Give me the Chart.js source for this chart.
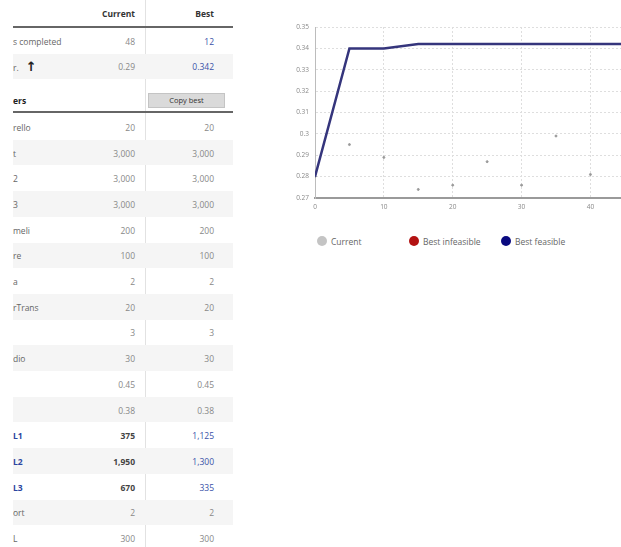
<!DOCTYPE html>
<html>
<head>
<meta charset="utf-8">
<script src="https://cdn.jsdelivr.net/npm/chart.js@4"></script>
<style>
    html, body {
        margin: 0;
        padding: 0;
        width: 621px;
        height: 547px;
        overflow: hidden;
        background: #fff;
        font-family: "Open Sans", "Noto Sans", sans-serif;
    }
    #table {
        position: absolute;
        left: 13px;
        top: 0;
        width: 220px;
        height: 547px;
        overflow: hidden;
        font-size: 8.5px;
        color: #888;
    }
    #table .divider {
        position: absolute;
        left: 132px;
        top: 0;
        width: 1px;
        height: 547px;
        background: #e2e2e2;
    }
    .row {
        position: absolute;
        left: 0;
        width: 220px;
    }
    .row.shade { background: #f5f5f5; }
    .row span {
        position: absolute;
        top: 50%;
        transform: translateY(-50%);
        white-space: nowrap;
    }
    .row .lab { left: 0; color: #666; }
    .row .cur { right: 98px; }
    .row .best { right: 19px; }
    .head span { color: #333; font-weight: bold; }
    .rule { border-bottom: 2px solid #666; }
    .row .blue { color: #3a52a8; }
    .row .strong { font-weight: bold; color: #444; }
    .row .lab.hl { font-weight: bold; color: #2c46a0; }
    .arrow {
        font-family: "DejaVu Sans", sans-serif;
        font-size: 13px;
        font-weight: bold;
        color: #222;
        margin-left: 7px;
        position: static !important;
        transform: none !important;
    }
    .btn {
        position: absolute;
        left: 135px;
        top: 93px;
        width: 75px;
        height: 13px;
        line-height: 13px;
        text-align: center;
        background: #dadada;
        border: 1px solid #c4c4c4;
        color: #333;
        font-size: 7.5px;
    }
    #chartBox {
        position: absolute;
        left: 290px;
        top: 15px;
        width: 378px;
        height: 197px;
    }
    #legend {
        position: absolute;
        left: 317px;
        top: 235px;
        display: flex;
        font-size: 8.5px;
        color: #666;
    }
    #legend .item {
        width: 92px;
        display: flex;
        align-items: center;
        height: 12px;
    }
    #legend .dot {
        width: 10px;
        height: 10px;
        border-radius: 50%;
        margin-right: 4px;
    }
</style>
</head>
<body>
<div id="table"></div>
<div id="chartBox"><canvas id="progressChart"></canvas></div>
<div id="legend"></div>

<script>
// chart data (sampled every 5 iterations)
const iterations = [0, 5, 10, 15, 20, 25, 30, 35, 40, 45];
const currentValues = [0.28, 0.295, 0.289, 0.274, 0.276, 0.287, 0.276, 0.299, 0.281, 0.29];
const bestFeasible = [0.28, 0.34, 0.34, 0.342, 0.342, 0.342, 0.342, 0.342, 0.342, 0.342];
const bestInfeasible = [];
const seriesNames = ['Current', 'Best infeasible', 'Best feasible'];
const seriesColors = ['#c4c4c4', '#b31212', '#0a0a80'];

// table data
const summaryLabels = ['s completed', 'r.'];
const summaryCurrent = ['48', '0.29'];
const summaryBest = ['12', '0.342'];
const paramLabels = ['rello', 't', '2', '3', 'meli', 're', 'a', 'rTrans', '', 'dio', '', '',
    'L1', 'L2', 'L3', 'ort', 'L'];
const paramCurrent = ['20', '3,000', '3,000', '3,000', '200', '100', '2', '20', '3', '30', '0.45', '0.38',
    '375', '1,950', '670', '2', '300'];
const paramBest = ['20', '3,000', '3,000', '3,000', '200', '100', '2', '20', '3', '30', '0.45', '0.38',
    '1,125', '1,300', '335', '2', '300'];
const highlighted = [12, 13, 14];

// build the table
const table = document.getElementById('table');
let html = '<div class="divider"></div>';
html += '<div class="row head rule" style="top:0;height:26px"><span class="cur">Current</span><span class="best">Best</span></div>';
summaryLabels.forEach((lab, i) => {
    const top = 28 + i * 25.5;
    const arrow = i === 1 ? '<span class="arrow">&#x2191;</span>' : '';
    html += `<div class="row${i % 2 ? ' shade' : ''}" style="top:${top}px;height:25.5px">` +
        `<span class="lab">${lab}${arrow}</span><span class="cur">${summaryCurrent[i]}</span>` +
        `<span class="best blue">${summaryBest[i]}</span></div>`;
});
html += '<div class="row rule" style="top:80px;height:31px"><span class="lab" style="top:20px;color:#222;font-weight:bold">ers</span></div>';
html += '<div class="btn">Copy best</div>';
paramLabels.forEach((lab, i) => {
    const top = 114 + i * 25.7;
    const hl = highlighted.includes(i);
    html += `<div class="row${i % 2 ? ' shade' : ''}" style="top:${top}px;height:25.7px">` +
        `<span class="lab${hl ? ' hl' : ''}">${lab}</span>` +
        `<span class="cur${hl ? ' strong' : ''}">${paramCurrent[i]}</span>` +
        `<span class="best${hl ? ' blue' : ''}">${paramBest[i]}</span></div>`;
});
table.innerHTML = html;

// chart
const gridStyle = { color: '#dedede', lineWidth: 1, drawTicks: false };
const tickFont = { size: 6.5, family: '"Open Sans", sans-serif' };

const ctx = document.getElementById('progressChart').getContext('2d');
const progressChart = new Chart(ctx, {
    data: {
        datasets: [{
            type: 'scatter',
            label: seriesNames[0],
            data: iterations.map((it, i) => ({ x: it, y: currentValues[i] })),
            backgroundColor: '#999',
            borderColor: '#999',
            pointRadius: 1,
            order: 2
        }, {
            type: 'line',
            label: seriesNames[1],
            data: bestInfeasible,
            borderColor: seriesColors[1],
            backgroundColor: seriesColors[1],
            pointRadius: 0
        }, {
            type: 'line',
            label: seriesNames[2],
            data: iterations.map((it, i) => ({ x: it, y: bestFeasible[i] })),
            borderColor: '#35357c',
            borderWidth: 2.5,
            pointRadius: 0,
            tension: 0,
            fill: false,
            order: 1
        }]
    },
    options: {
        responsive: true,
        maintainAspectRatio: false,
        animation: false,
        layout: { padding: { top: 12, right: 5, left: 0, bottom: 0 } },
        scales: {
            x: {
                type: 'linear',
                min: 0,
                max: 50,
                ticks: { stepSize: 10, padding: 5, color: '#888', font: tickFont },
                grid: gridStyle,
                border: { color: '#9a9a9a', width: 2, dash: [2, 2] },
                afterFit: (scale) => { scale.height = 14; }
            },
            y: {
                min: 0.27,
                max: 0.35,
                ticks: {
                    stepSize: 0.01,
                    padding: 6,
                    color: '#888',
                    font: tickFont,
                    callback: (v) => String(+v.toFixed(2))
                },
                grid: gridStyle,
                border: { color: '#bcbcbc', width: 1, dash: [2, 2] },
                afterFit: (scale) => { scale.width = 25; }
            }
        },
        plugins: {
            legend: { display: false },
            tooltip: { enabled: false }
        }
    }
});

// legend built from the chart's datasets
const legend = document.getElementById('legend');
legend.innerHTML = progressChart.data.datasets.map((ds, i) =>
    `<div class="item"><div class="dot" style="background:${seriesColors[i]}"></div>${ds.label}</div>`
).join('');
</script>
</body>
</html>
